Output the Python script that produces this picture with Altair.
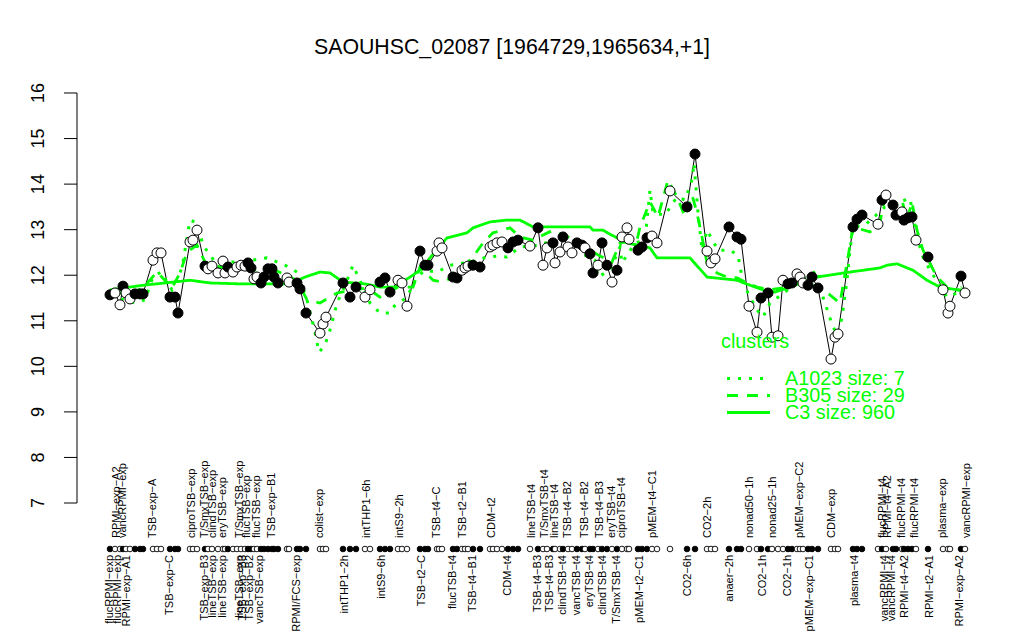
import altair as alt
import pandas as pd

title_text = ["SAOUHSC_02087 [1964729,1965634,+1]"]

# condition positions (index units along the condition axis), expression values, filled flag
cond_pos = [2.0,3.0,4.0,4.6,5.2,6.0,7.0,8.0,8.6,10.6,
            11.4,12.2,14.0,15.0,15.6,18.0,18.6,19.4,21.0,21.6,
            22.4,23.6,24.6,25.0,25.6,26.6,27.4,28.2,29.0,29.6,
            30.2,30.8,31.4,32.2,32.8,33.6,34.4,34.8,35.6,37.4,
            37.8,39.4,40.0,41.2,44.0,44.6,45.2,48.6,50.0,51.2,
            53.0,54.0,56.0,57.0,58.0,59.6,60.4,61.4,64.0,65.0,
            65.6,67.4,67.8,68.4,70.6,71.4,72.4,73.0,73.6,74.6,
            76.0,78.0,78.6,79.4,80.4,81.6,82.6,83.6,86.0,87.6,
            88.6,89.4,90.6,91.0,92.0,92.6,93.6,94.4,95.4,96.4,
            97.0,98.0,98.6,99.6,100.4,101.4,102.4,103.4,104.4,105.4,
            105.8,107.6,108.4,109.4,110.4,111.4,114.0,117.4,119.0,121.4,
            122.2,123.0,125.8,127.4,128.2,129.8,131.4,132.2,133.6,134.4,
            135.6,136.6,137.6,138.4,139.4,140.0,140.6,141.6,142.4,143.6,
            146.2,147.0,147.6,150.6,151.4,152.4,155.6,156.4,157.2,158.6,
            159.2,160.4,160.8,161.6,162.4,163.2,165.6,168.6,169.6,170.0,
            172.2,173.0]
cond_val = [11.57,11.61,11.35,11.76,11.61,11.48,11.59,11.59,11.59,12.33,
            12.49,12.49,11.52,11.52,11.17,12.73,12.77,12.99,12.20,12.14,
            12.20,12.05,12.31,12.05,12.18,12.07,12.18,12.22,12.20,12.27,
            12.16,11.92,11.96,11.83,11.96,12.14,12.14,11.96,11.83,11.94,
            11.85,11.83,11.70,11.17,10.73,10.93,11.08,11.83,11.52,11.74,
            11.52,11.68,11.85,11.94,11.63,11.89,11.83,11.32,12.53,12.22,
            12.22,12.53,12.71,12.60,11.96,11.94,12.11,12.16,12.20,12.22,
            12.18,12.62,12.66,12.71,12.73,12.60,12.73,12.77,12.64,13.04,
            12.22,12.60,12.71,12.27,12.51,12.84,12.62,12.49,12.71,12.66,
            12.60,12.47,12.05,12.22,12.71,12.22,11.85,12.11,12.84,13.04,
            12.79,12.55,12.62,12.82,12.86,12.71,13.85,13.50,14.66,12.53,
            12.27,12.36,13.06,12.84,12.79,11.32,10.75,11.50,11.61,10.64,
            10.67,11.89,11.81,11.83,12.03,11.96,11.83,11.78,11.96,11.72,
            10.16,10.64,10.71,13.06,13.23,13.32,13.12,13.65,13.76,13.54,
            13.32,13.39,13.21,13.26,13.28,12.77,12.40,11.68,11.17,11.32,
            11.98,11.61]
cond_filled = list("FOOFOOFFFO" "OOFFFOOOFO" "OOOOFOOOOF" "FOOFFFFFFO"
                   "OFFFOOOFFF" "OOFFFOOOFF" "FOOOFFOOOF" "FOOOOFFFOF"
                   "OOFOOFOOFF" "OFFOFFOFOO" "OFFFOOOFFO" "OOFFFOOFFO"
                   "OOFFOOOFFF" "OOOFFFOFOF" "FOFFFOFOOO" "FO")

# cluster profiles
c3_pos = [2.0,8.6,13.0,18.0,22.0,28.0,38.0,41.0,44.0,46.0,48.6,53.0,56.0,59.0,62.0,
          64.0,66.0,69.4,73.4,74.6,78.0,81.4,84.0,86.6,90.6,98.0,98.6,100.6,102.0,105.4,
          110.0,111.4,118.0,121.4,127.4,130.0,132.6,135.0,138.0,143.4,150.0,156.0,157.4,
          159.4,162.6,165.4,168.0,171.4,173.0]
c3_val = [11.68,11.78,11.83,11.89,11.83,11.81,11.81,11.96,12.07,12.05,11.85,11.81,11.74,11.74,11.96,
          12.11,12.38,12.82,12.93,13.04,13.17,13.21,13.21,13.06,13.06,13.06,12.99,12.99,12.90,12.71,
          12.60,12.38,12.38,11.96,11.89,11.78,11.68,11.63,11.74,11.96,12.07,12.16,12.22,
          12.25,12.11,11.89,11.74,11.68,11.65]

b305_pos = [2.0,6.0,8.6,11.4,14.4,16.0,17.4,19.4,21.0,26.0,30.0,32.4,35.0,39.4,41.4,44.0,
            47.4,51.0,53.4,56.0,59.6,62.6,64.0,66.6,68.6,70.6,74.6,76.6,78.6,82.0,84.0,86.6,
            90.6,95.0,98.0,100.0,102.4,104.0,107.4,108.0,110.0,111.6,113.6,115.4,117.0,118.4,
            119.4,120.4,121.4,123.4,125.4,127.4,129.4,131.4,134.0,136.6,140.0,144.0,148.0,
            149.6,150.6,154.0,156.0,157.0,158.4,160.4,161.4,162.4,163.4,164.6,167.4,169.4,
            171.0,172.6]
b305_val = [11.61,11.61,11.72,12.07,11.72,12.05,12.51,12.66,12.29,12.11,12.16,11.94,12.11,11.89,11.46,11.39,
            11.61,11.68,11.72,11.52,11.74,11.74,12.18,11.89,11.85,11.96,12.40,12.71,12.93,13.04,12.84,12.77,
            12.99,12.77,12.55,12.42,12.29,12.71,12.77,13.06,13.61,13.28,14.09,13.72,13.28,13.76,
            13.37,12.84,12.27,12.05,11.96,11.94,11.83,11.74,11.68,11.72,11.83,11.74,11.39,
            12.40,13.06,12.95,13.15,13.76,13.50,13.65,13.21,13.61,12.99,12.55,11.96,11.74,
            11.68,11.68]

a1023_pos = [2.0,5.0,7.0,9.0,10.6,12.2,14.4,16.4,18.0,19.4,20.6,23.0,28.0,33.4,37.0,39.4,
             41.4,43.0,43.8,45.0,46.0,47.4,49.0,50.6,52.4,54.0,56.0,58.0,58.6,61.4,63.4,65.0,
             67.4,70.0,74.0,77.4,79.4,81.4,84.0,88.0,90.6,94.0,97.0,99.0,99.6,102.0,104.0,
             104.4,107.0,109.0,110.0,110.6,113.0,115.4,117.0,118.4,118.8,119.6,120.4,121.4,
             123.6,126.0,127.6,128.6,130.0,131.4,132.6,134.0,137.0,140.0,143.6,144.6,145.6,
             146.6,147.6,148.4,149.4,150.0,150.6,153.0,157.0,162.0,163.4,164.6,166.0,169.4,
             171.4,172.4]
a1023_val = [11.52,11.46,11.39,11.46,11.96,12.07,11.68,12.16,13.21,13.15,12.66,12.29,12.29,12.38,12.22,12.07,
             11.46,10.75,10.31,10.47,10.80,11.39,11.78,12.22,11.78,11.39,11.17,11.17,11.30,11.52,11.96,12.11,
             12.07,12.22,12.29,12.40,12.42,12.40,12.62,12.66,12.77,12.55,12.44,12.33,11.96,12.11,12.62,
             12.27,12.71,12.77,13.87,13.37,13.32,13.72,13.65,14.09,14.46,13.37,12.55,12.99,
             12.55,12.55,12.44,11.83,11.52,11.24,11.08,11.39,11.63,11.89,12.11,11.52,11.19,
             10.86,10.69,11.08,11.89,12.55,13.06,13.10,13.50,13.69,12.84,12.40,12.11,11.52,
             11.61,11.74]

top_labels = ["RPMI−exp−A2","vancRPMI−exp","TSB−exp−A","ciproTSB−exp","T/SmxTSB−exp",
              "clindTSB−exp","eryTSB−exp","T/SmxTSB−exp","flucTSB−exp","flucTSB−exp",
              "TSB−exp−B1","colist−exp","intTHP1−6h","intS9−2h","TSB−t4−C","TSB−t2−B1",
              "CDM−t2","lineTSB−t4","T/SmxTSB−t4","lineTSB−t4","TSB−t4−B2","TSB−t4−B2",
              "TSB−t4−B3","eryTSB−t4","ciproTSB−t4","pMEM−t4−C1","CO2−2h","nonad50−1h",
              "nonad25−1h","pMEM−exp−C2","CDM−exp","flucRPMI−t4","RPMI−t4−A2",
              "flucRPMI−t4","flucRPMI−t4","plasma−exp","vancRPMI−exp"]
top_label_pos = [3.4,4.6,10.6,18.4,21.0,22.6,24.6,28.0,29.4,31.4,34.4,44.0,53.4,60.0,67.4,72.6,
                 78.4,86.4,89.0,91.0,93.6,97.0,100.0,102.4,104.4,110.6,121.6,130.0,134.6,140.0,
                 146.4,156.6,157.6,160.4,163.0,168.6,173.4]

bottom_labels = ["flucRPMI−exp","flucRPMI−exp","RPMI−exp−A1","TSB−exp−C","TSB−exp−B3",
                 "lineTSB−exp","lineTSB−exp","lineTSB−exp","TSB−exp−B3","TSB−exp−B2",
                 "vancTSB−exp","RPMI/FCS−exp","intTHP1−2h","intS9−6h","TSB−t2−C",
                 "flucTSB−t4","TSB−t4−B1","CDM−t4","TSB−t4−B3","TSB−t4−B3","clindTSB−t4",
                 "vancTSB−t4","eryTSB−t4","clindTSB−t4","T/SmxTSB−t4","pMEM−t2−C1","CO2−6h",
                 "anaer−2h","CO2−1h","CO2−1h","pMEM−exp−C1","plasma−t4","vancRPMI−t4",
                 "vancRPMI−t4","RPMI−t4−A2","RPMI−t2−A1","RPMI−exp−A2"]
bottom_label_pos = [2.0,3.6,5.4,14.0,21.0,22.6,24.6,28.0,28.6,30.0,32.0,39.4,49.0,56.4,64.4,
                    70.6,74.6,81.6,87.6,90.0,92.6,95.4,98.0,100.6,103.4,108.0,117.6,126.0,
                    132.6,137.6,142.0,151.0,157.0,158.4,161.0,166.0,172.0]

y_ticks = [7, 8, 9, 10, 11, 12, 13, 14, 15, 16]
legend_title = ["clusters"]
legend_names = ["A1023 size: 7", "B305 size: 29", "C3 size: 960"]

GREEN = "#00ff00"
FONT = "Liberation Sans"

xs = alt.Scale(domain=[-18.4, 183.2], nice=False, zero=False)
ys = alt.Scale(domain=[4.1686, 17.8657], nice=False, zero=False)

pts = pd.DataFrame({"pos": cond_pos, "val": cond_val,
                    "kind": ["filled" if f == "F" else "open" for f in cond_filled]})

X = alt.X("pos:Q", scale=xs, axis=None)
Y = alt.Y("val:Q", scale=ys, axis=None)
fill_enc = alt.Fill("kind:N", scale=alt.Scale(domain=["filled", "open"], range=["black", "white"]), legend=None)

black_line = alt.Chart(pts).mark_line(color="black", strokeWidth=1).encode(x=X, y=Y, order="pos:Q")

def cluster_line(p, v, dash, width):
    df = pd.DataFrame({"pos": p, "val": v})
    return alt.Chart(df).mark_line(color=GREEN, strokeWidth=width, strokeDash=dash, strokeCap="butt").encode(
        x=X, y=Y, order="pos:Q")

c3_line = cluster_line(c3_pos, c3_val, [1, 0], 2.8)
b305_line = cluster_line(b305_pos, b305_val, [11, 9], 2.8)
a1023_line = cluster_line(a1023_pos, a1023_val, [3, 8], 3)

points = alt.Chart(pts).mark_point(shape="circle", filled=True, size=100, stroke="black",
                                   strokeWidth=1, opacity=1).encode(x=X, y=Y, fill=fill_enc)

dot_row = alt.Chart(pts).mark_point(shape="circle", filled=True, size=32, stroke="black",
                                    strokeWidth=0.9, opacity=1).encode(x=X, y=alt.value(541), fill=fill_enc)

top_df = pd.DataFrame({"pos": top_label_pos, "lab": top_labels})
bot_df = pd.DataFrame({"pos": bottom_label_pos, "lab": bottom_labels})
top_text = alt.Chart(top_df).mark_text(angle=270, align="left", baseline="middle", font=FONT,
                                       fontSize=11, color="black").encode(x=X, y=alt.value(530), text="lab:N")
bot_text = alt.Chart(bot_df).mark_text(angle=270, align="right", baseline="middle", font=FONT,
                                       fontSize=11, color="black").encode(x=X, y=alt.value(547), text="lab:N")

tick_df = pd.DataFrame({"t": y_ticks})
axis_df = pd.DataFrame({"lo": [min(y_ticks)], "hi": [max(y_ticks)]})
axis_line = alt.Chart(axis_df).mark_rule(color="black", strokeWidth=1).encode(
    x=alt.value(69), y=alt.Y("lo:Q", scale=ys, axis=None), y2="hi:Q")
axis_ticks = alt.Chart(tick_df).mark_rule(color="black", strokeWidth=1).encode(
    x=alt.value(56), x2=alt.value(69), y=alt.Y("t:Q", scale=ys, axis=None))
axis_labels = alt.Chart(tick_df).mark_text(angle=270, align="center", baseline="middle", font=FONT,
                                           fontSize=18, color="black").encode(
    x=alt.value(31), y=alt.Y("t:Q", scale=ys, axis=None), text="t:Q")

title_df = pd.DataFrame({"t": title_text})
title = alt.Chart(title_df).mark_text(font=FONT, fontSize=21.3, align="center", baseline="middle",
                                      color="black").encode(x=alt.value(504), y=alt.value(40), text="t:N")

leg_title = alt.Chart(pd.DataFrame({"t": legend_title})).mark_text(
    font=FONT, fontSize=19.8, align="left", baseline="middle", color=GREEN).encode(
    x=alt.value(713), y=alt.value(334), text="t:N")

leg_df = pd.DataFrame({"name": legend_names})
leg_y = alt.Y("name:N", scale=alt.Scale(domain=legend_names, range=[362, 413]), axis=None)
leg_text = alt.Chart(leg_df).mark_text(font=FONT, fontSize=19.8, align="left", baseline="middle",
                                       color=GREEN).encode(x=alt.value(777), y=leg_y, text="name:N")
leg_lines = alt.Chart(leg_df).mark_rule(color=GREEN, strokeWidth=2.8, strokeCap="butt").encode(
    x=alt.value(719), x2=alt.value(762), y=leg_y,
    strokeDash=alt.StrokeDash("name:N", scale=alt.Scale(domain=legend_names,
                                                        range=[[3, 8], [11, 9], [1, 0]]), legend=None))

chart = alt.layer(
    black_line, c3_line, b305_line, a1023_line, points, dot_row,
    top_text, bot_text, axis_line, axis_ticks, axis_labels, title,
    leg_title, leg_lines, leg_text
).resolve_scale(y="independent").properties(
    width=1008, height=624, padding=0, autosize=alt.AutoSizeParams(type="none")
).configure_view(stroke=None)

chart.save("out.html", embed_options={"renderer": "svg", "actions": False})
